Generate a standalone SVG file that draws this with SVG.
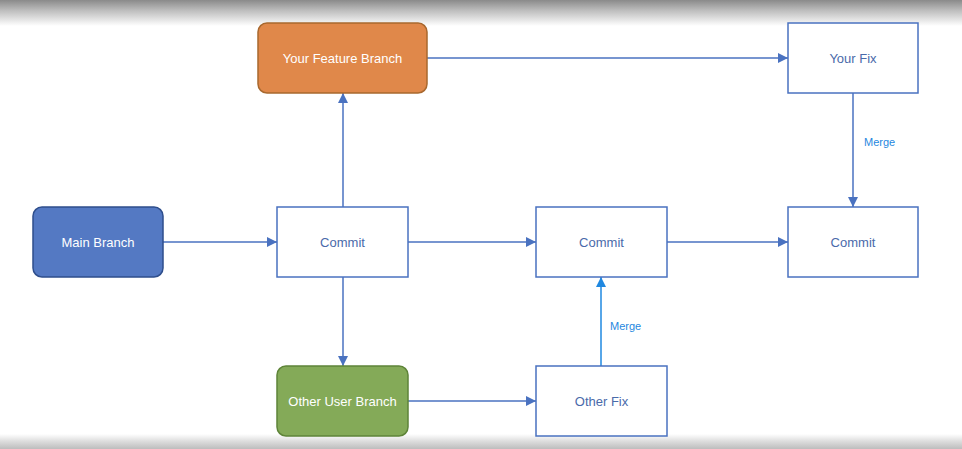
<svg xmlns="http://www.w3.org/2000/svg" width="962" height="449" viewBox="0 0 962 449">
<defs>
<linearGradient id="topg" x1="0" y1="0" x2="0" y2="1"><stop offset="0" stop-color="#8a8a8a"/><stop offset="0.4" stop-color="#bdbdbd"/><stop offset="1" stop-color="#ffffff"/></linearGradient>
<linearGradient id="botg" x1="0" y1="0" x2="0" y2="1"><stop offset="0" stop-color="#ffffff"/><stop offset="0.5" stop-color="#dcdcdc"/><stop offset="1" stop-color="#bdbdbd"/></linearGradient>
<marker id="ah" viewBox="0 0 10 10" refX="10" refY="5" markerWidth="10" markerHeight="10" markerUnits="userSpaceOnUse" orient="auto"><path d="M0,0 L10,5 L0,10 z" fill="#4a72c0"/></marker>
<marker id="ahm" viewBox="0 0 10 10" refX="10" refY="5" markerWidth="10" markerHeight="10" markerUnits="userSpaceOnUse" orient="auto"><path d="M0,0 L10,5 L0,10 z" fill="#1f88e0"/></marker>
</defs>
<style>
.box{fill:#ffffff;stroke:#4a72c0;stroke-width:1.5}
.t{font-family:"Liberation Sans",Arial,sans-serif;font-size:13px;text-anchor:middle;dominant-baseline:central}
.tb{fill:#4a6aaa}
.tw{fill:#ffffff}
.c{stroke:#4a72c0;stroke-width:1.5;fill:none;marker-end:url(#ah)}
.cm{stroke:#1f88e0;stroke-width:1.5;fill:none;marker-end:url(#ahm)}
.ml{font-family:"Liberation Sans",Arial,sans-serif;font-size:11px;fill:#1f88e0;dominant-baseline:central}
</style>
<rect width="962" height="449" fill="#ffffff"/>
<rect x="0" y="0" width="962" height="26" fill="url(#topg)"/>
<rect x="0" y="434" width="962" height="15" fill="url(#botg)"/>
<g id="connectors">
<path class="c" d="M163,242 L277,242"/>
<path class="c" d="M343,207 L343,93"/>
<path class="c" d="M343,277 L343,366"/>
<path class="c" d="M427,58 L788,58"/>
<path class="c" d="M853,93 L853,207"/>
<path class="c" d="M408,242 L536,242"/>
<path class="c" d="M667,242 L788,242"/>
<path class="c" d="M408,401 L536,401"/>
<path class="cm" d="M601,366 L601,277"/>
<text class="ml" x="864" y="142">Merge</text>
<text class="ml" x="610" y="326">Merge</text>
</g>
<g id="main-branch"><rect x="33" y="207" width="130" height="70" rx="9" fill="#5479c3" stroke="#2e4e8c" stroke-width="1.5"/><text class="t tw" x="98" y="242">Main Branch</text></g>
<g id="feature-branch"><rect x="258" y="23" width="169" height="70" rx="9" fill="#e0884a" stroke="#a8682e" stroke-width="1.5"/><text class="t tw" x="342.5" y="58">Your Feature Branch</text></g>
<g id="other-user-branch"><rect x="277" y="366" width="131" height="70" rx="9" fill="#84aa58" stroke="#5e8438" stroke-width="1.5"/><text class="t tw" x="342.5" y="401">Other User Branch</text></g>
<g id="commit1"><rect class="box" x="277" y="207" width="131" height="70"/><text class="t tb" x="342.5" y="242">Commit</text></g>
<g id="commit2"><rect class="box" x="536" y="207" width="131" height="70"/><text class="t tb" x="601.5" y="242">Commit</text></g>
<g id="commit3"><rect class="box" x="788" y="207" width="130" height="70"/><text class="t tb" x="853" y="242">Commit</text></g>
<g id="your-fix"><rect class="box" x="788" y="23" width="130" height="70"/><text class="t tb" x="853" y="58">Your Fix</text></g>
<g id="other-fix"><rect class="box" x="536" y="366" width="131" height="70"/><text class="t tb" x="601.5" y="401">Other Fix</text></g>
</svg>
